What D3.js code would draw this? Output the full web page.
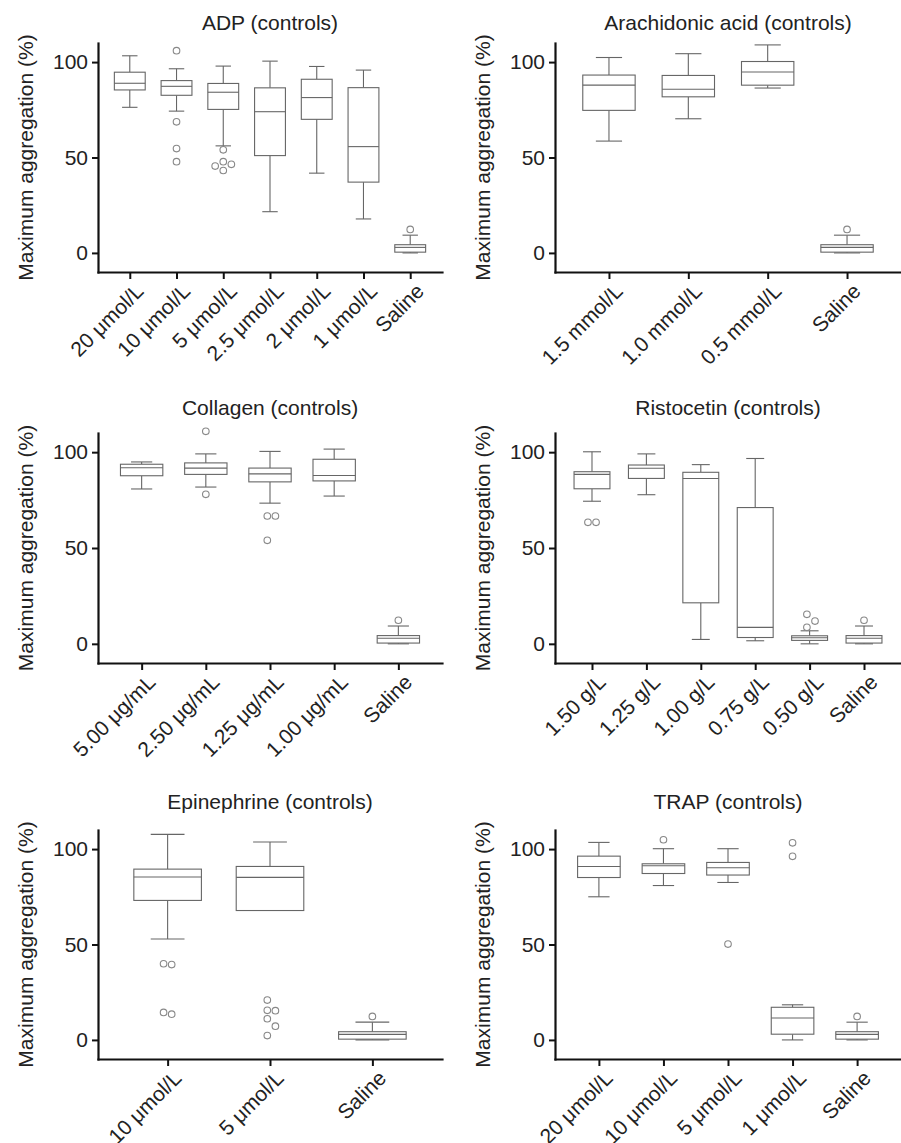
<!DOCTYPE html>
<html>
<head>
<meta charset="utf-8">
<script src="https://cdn.jsdelivr.net/npm/d3@7"></script>
<style>
  body { margin: 0; background: #fff; }
  text { font-family: "Liberation Sans", Arial, Helvetica, sans-serif; }
</style>
</head>
<body>
<svg width="901" height="1143"></svg>
<script>
// box stats are [low whisker, q1, median, q3, high whisker]
const yTicks = [0, 50, 100];
const yDomain = [-10, 110];

const titles = ['ADP (controls)', 'Arachidonic acid (controls)', 'Collagen (controls)',
  'Ristocetin (controls)', 'Epinephrine (controls)', 'TRAP (controls)'];

const salineStats = [0, 0.4, 2.9, 4.3, 9.3];
const salineOutliers = [12.3];

const adpCats = ['20 μmol/L', '10 μmol/L', '5 μmol/L', '2.5 μmol/L', '2 μmol/L', '1 μmol/L', 'Saline'];
const adpStats = [
  [76.3, 85.4, 88.9, 94.7, 103.3],
  [74.3, 82.6, 87.3, 90.3, 96.5],
  [56.1, 75.2, 84.2, 88.8, 97.9],
  [21.6, 51, 74, 86.5, 100.5],
  [41.8, 70, 81.4, 91, 97.7],
  [17.8, 37.1, 55.7, 86.6, 95.8],
  salineStats
];
const adpOutliers = [[], [106, 68.7, 54.7, 47.8], [54, 47.8, 46.4, 45.5, 43.2], [], [], [], salineOutliers];

const aaCats = ['1.5 mmol/L', '1.0 mmol/L', '0.5 mmol/L', 'Saline'];
const aaStats = [
  [58.6, 74.7, 87.9, 93.2, 102.4],
  [70.3, 81.8, 85.8, 93, 104.4],
  [86.4, 87.9, 94.8, 100.3, 109],
  salineStats
];
const aaOutliers = [[], [], [], salineOutliers];

const colCats = ['5.00 μg/mL', '2.50 μg/mL', '1.25 μg/mL', '1.00 μg/mL', 'Saline'];
const colStats = [
  [80.8, 87.7, 91.9, 93.7, 94.9],
  [81.8, 88.4, 91.7, 94.4, 99.1],
  [73.4, 84.5, 88.7, 91.7, 100.4],
  [77.1, 85, 87.8, 96.3, 101.6],
  salineStats
];
const colOutliers = [[], [110.9, 78], [66.7, 66.7, 54], [], salineOutliers];

const risCats = ['1.50 g/L', '1.25 g/L', '1.00 g/L', '0.75 g/L', '0.50 g/L', 'Saline'];
const risStats = [
  [74.4, 80.9, 88.4, 89.8, 100.2],
  [77.8, 86.3, 91.6, 93.3, 99.1],
  [2.3, 21.4, 86.3, 89.5, 93.5],
  [1.6, 3.3, 8.6, 71.1, 96.7],
  [0, 1.8, 3.2, 4.2, 6.8],
  salineStats
];
const risOutliers = [[63.4, 63.4], [], [], [], [15.4, 11.9, 8.6], salineOutliers];

const epiCats = ['10 μmol/L', '5 μmol/L', 'Saline'];
const epiStats = [
  [52.9, 73.1, 85.4, 89.5, 107.7],
  [67.8, 67.8, 85.2, 90.9, 103.7],
  salineStats
];
const epiOutliers = [[39.9, 39.5, 14.4, 13.5], [20.9, 15.5, 15.3, 11.1, 7.2, 2.3], salineOutliers];

const trapCats = ['20 μmol/L', '10 μmol/L', '5 μmol/L', '1 μmol/L', 'Saline'];
const trapStats = [
  [75, 85.1, 90.9, 96.3, 103.5],
  [80.9, 87.2, 91.3, 92.3, 100.2],
  [82.5, 86.4, 90.2, 93, 100.2],
  [0, 3, 11.5, 17.1, 18.4],
  salineStats
];
const trapOutliers = [[], [104.9], [50.2], [103.3, 96.2], salineOutliers];

(function (d3) {
  'use strict';

  const svg = d3.select('svg');

  const colLeft = [98, 555], colRight = [442, 901];
  const rowTop = [43, 433, 830], rowBottom = [272, 663, 1059];
  const titleY = [30, 415, 809];
  const fontSize = 21;
  const boxStroke = '#666';
  const r = 3.3;

  const panels = [
    { cats: adpCats, stats: adpStats, outliers: adpOutliers },
    { cats: aaCats, stats: aaStats, outliers: aaOutliers },
    { cats: colCats, stats: colStats, outliers: colOutliers },
    { cats: risCats, stats: risStats, outliers: risOutliers },
    { cats: epiCats, stats: epiStats, outliers: epiOutliers },
    { cats: trapCats, stats: trapStats, outliers: trapOutliers }
  ];

  // small beeswarm so overlapping outliers sit side by side
  const dodge = (vals, y) => {
    const s = 2 * r + 1.5;
    const placed = [];
    vals.slice().sort((a, b) => b - a).forEach(v => {
      const cy = y(v);
      for (let k = 0; k < 20; k++) {
        const off = k === 0 ? 0 : (k % 2 ? 1 : -1) * Math.ceil(k / 2) * s;
        if (placed.every(p => Math.hypot(p.dx - off, p.cy - cy) >= s - 0.01)) {
          placed.push({ dx: off, cy });
          break;
        }
      }
    });
    const mean = d3.mean(placed, p => p.dx) || 0;
    placed.forEach(p => p.dx -= mean);
    return placed;
  };

  const render = (p, i) => {
    const col = i % 2, row = Math.floor(i / 2);
    const left = colLeft[col], right = colRight[col];
    const top = rowTop[row], bottom = rowBottom[row];

    const x = d3.scalePoint()
      .domain(p.cats)
      .range([left, right])
      .padding(0.68);

    const y = d3.scaleLinear()
      .domain(yDomain)
      .range([bottom, top]);

    const boxW = x.step() * 0.66;
    const capW = boxW / 2;

    const g = svg.append('g');

    g.append('text')
      .attr('x', (left + right) / 2)
      .attr('y', titleY[row])
      .attr('text-anchor', 'middle')
      .attr('font-size', fontSize)
      .attr('fill', '#222')
      .text(titles[i]);

    g.append('text')
      .attr('transform', `translate(${left - 65},${(top + bottom) / 2}) rotate(-90)`)
      .attr('text-anchor', 'middle')
      .attr('font-size', fontSize)
      .attr('fill', '#222')
      .text('Maximum aggregation (%)');

    const boxes = g.selectAll('g.box').data(p.stats)
      .enter().append('g')
        .attr('class', 'box')
        .attr('transform', (d, j) => `translate(${x(p.cats[j])},0)`)
        .attr('stroke', boxStroke)
        .attr('stroke-width', 1.1)
        .attr('fill', 'none');

    boxes.append('line')
      .attr('y1', d => y(d[0])).attr('y2', d => y(d[1]));
    boxes.append('line')
      .attr('y1', d => y(d[3])).attr('y2', d => y(d[4]));
    boxes.append('line')
      .attr('x1', -capW / 2).attr('x2', capW / 2)
      .attr('y1', d => y(d[0])).attr('y2', d => y(d[0]));
    boxes.append('line')
      .attr('x1', -capW / 2).attr('x2', capW / 2)
      .attr('y1', d => y(d[4])).attr('y2', d => y(d[4]));
    boxes.append('rect')
      .attr('x', -boxW / 2)
      .attr('width', boxW)
      .attr('y', d => y(d[3]))
      .attr('height', d => y(d[1]) - y(d[3]))
      .attr('fill', '#fff');
    boxes.append('line')
      .attr('x1', -boxW / 2).attr('x2', boxW / 2)
      .attr('y1', d => y(d[2])).attr('y2', d => y(d[2]));

    p.outliers.forEach((vals, j) => {
      g.selectAll(null).data(dodge(vals, y))
        .enter().append('circle')
          .attr('cx', d => x(p.cats[j]) + d.dx)
          .attr('cy', d => d.cy)
          .attr('r', r)
          .attr('fill', 'none')
          .attr('stroke', '#888')
          .attr('stroke-width', 1.1);
    });

    const yAxisG = g.append('g')
      .attr('transform', `translate(${left},0)`)
      .call(d3.axisLeft(y).tickValues(yTicks).tickSize(6).tickSizeOuter(0).tickPadding(4));

    const xAxisG = g.append('g')
      .attr('transform', `translate(0,${bottom})`)
      .call(d3.axisBottom(x).tickSize(7).tickSizeOuter(0));

    [yAxisG, xAxisG].forEach(a => {
      a.selectAll('.domain').attr('stroke', '#111').attr('stroke-width', 2.2).attr('stroke-linecap', 'square');
      a.selectAll('.tick line').attr('stroke', '#111').attr('stroke-width', 2);
      a.selectAll('text').attr('font-size', fontSize).attr('fill', '#222').attr('font-family', null);
    });

    xAxisG.selectAll('.tick text')
      .attr('x', 0)
      .attr('y', 0)
      .attr('dy', '0.71em')
      .attr('text-anchor', 'end')
      .attr('transform', 'translate(4,10) rotate(-45)');
  };

  panels.forEach(render);

}(d3));
</script>
</body>
</html>
